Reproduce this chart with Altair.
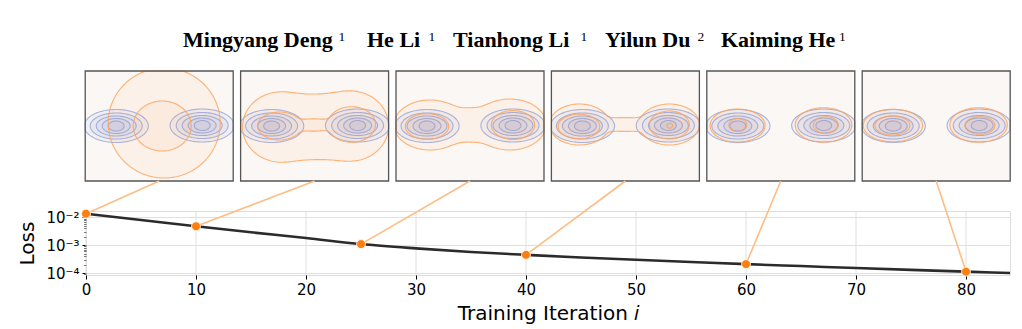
import numpy as np
import pandas as pd
import altair as alt
from collections import defaultdict

alt.data_transformers.disable_max_rows()

# ---------------- data ----------------
ITERATIONS = [0, 5, 10, 15, 20, 25, 30, 35, 40, 45, 50, 55, 60, 65, 70, 75, 80, 84]
LOSS = [1.36e-2, 8.1e-3, 4.8e-3, 2.92e-3, 1.82e-3, 1.1e-3, 7.7e-4, 5.7e-4, 4.5e-4,
        3.63e-4, 3.0e-4, 2.5e-4, 2.09e-4, 1.78e-4, 1.51e-4, 1.3e-4, 1.12e-4, 1.0e-4]
SNAP_ITER = [0, 10, 25, 40, 60, 80]
SNAP_LOSS = [1.36e-2, 4.8e-3, 1.1e-3, 4.5e-4, 2.09e-4, 1.12e-4]

AUTHORS = ["Mingyang Deng", "He Li", "Tianhong Li", "Yilun Du", "Kaiming He"]
AFFILS = ["1", "1", "1", "2", "1"]

X_TICKS = [0, 10, 20, 30, 40, 50, 60, 70, 80]

# target distribution (blue): two blobs, nested contour half-axes (panel px)
BLUE_CENTRES = [(31, 55), (117, 54.5)]
BLUE_RADII = [(32, 16.5), (26, 13), (20, 10), (14, 7.5), (8, 5)]

# generated distribution (orange): per panel, per contour: blobs (cx, cy, rx, ry)
ORANGE = [
    [[(79, 52, 56, 55)],
     [(77, 55, 29, 25)]],
    [[(40, 56, 38, 35), (110, 55, 38, 35), (75, 56, 30, 29)],
     [(39, 55, 22, 14), (111, 53.5, 24, 17.8), (73, 54, 18, 6)]],
    [[(34, 54, 36, 25), (114, 53.5, 36, 25.5), (75, 54, 25, 15)],
     [(31, 55.5, 21.7, 12.8), (117, 54, 21.7, 14.5)]],
    [[(28, 53.5, 30, 20.5), (118, 53.5, 30, 20.5), (73, 53.5, 22, 6.7)],
     [(27.5, 55.5, 20.8, 12.3), (118, 54, 20, 14)],
     [(118.3, 54.7, 3, 2.5)]],
    [[(30.8, 54.5, 27.5, 16.5), (116.7, 54, 28.3, 17.3)],
     [(31, 54, 9, 6.5), (119, 54, 12.5, 8.3)]],
    [[(30.7, 54.5, 29.7, 16.2), (116.4, 54, 28.7, 17.3)],
     [(30.2, 54.5, 17.5, 9.5), (117.7, 54.5, 15, 8.8)]],
]

# ---------------- layout ----------------
PAD_L, PAD_T = 86, 211
W, H = 924, 64
PAD_R, PAD_B = 1022 - PAD_L - W, 329 - PAD_T - H
X_DOMAIN = [0, 84]
PX = W / (X_DOMAIN[1] - X_DOMAIN[0])
PANEL_W, PANEL_H = 148, 110
PANEL_LEFT = [85.2 + 155.4 * i - PAD_L for i in range(6)]   # relative to plot left
PANEL_TOP, PANEL_BOTTOM = 71 - PAD_T, 181 - PAD_T
Y_DOMAIN = [8.5e-5, 1.7e-2]

BLUE, BLUE_FILL = "#8198dc", "#6b7fc4"
ORANGE_C, ORANGE_FILL = "#ffa55a", "#ff9a40"
DOT = "#ff7f0e"
LINK = "#fdbd84"
GRID = "#e0e0e0"


# ---------------- contour geometry (marching squares) ----------------
def field(blobs, U, V, p=3.0):
    acc = np.zeros_like(U)
    for cx, cy, rx, ry in blobs:
        f = np.exp(-np.log(2) * (((U - cx) / rx) ** 2 + ((V - cy) / ry) ** 2))
        acc += f ** p
    return acc ** (1.0 / p)


def iso_polygons(F, xs, ys, level):
    F = F.copy()
    F[0, :] = 0; F[-1, :] = 0; F[:, 0] = 0; F[:, -1] = 0
    B = F > level
    case = (B[:-1, :-1] * 1 + B[:-1, 1:] * 2 + B[1:, 1:] * 4 + B[1:, :-1] * 8)
    adj = defaultdict(list)

    def link(a, b):
        adj[a].append(b)
        adj[b].append(a)

    for j, i in np.argwhere((case > 0) & (case < 15)):
        j = int(j); i = int(i)
        c = case[j, i]
        e0 = ('h', i, j); e1 = ('v', i + 1, j); e2 = ('h', i, j + 1); e3 = ('v', i, j)
        if c in (5, 10):
            centre = (F[j, i] + F[j, i + 1] + F[j + 1, i + 1] + F[j + 1, i]) / 4 > level
            if (c == 5) == centre:
                link(e0, e1); link(e2, e3)
            else:
                link(e3, e0); link(e1, e2)
        else:
            a, b, cc, d = B[j, i], B[j, i + 1], B[j + 1, i + 1], B[j + 1, i]
            crossed = []
            if a != b: crossed.append(e0)
            if b != cc: crossed.append(e1)
            if d != cc: crossed.append(e2)
            if a != d: crossed.append(e3)
            link(crossed[0], crossed[1])

    def pt(e):
        kind, i, j = e
        if kind == 'h':
            f1, f2 = F[j, i], F[j, i + 1]
            t = (level - f1) / (f2 - f1)
            return xs[i] + t * (xs[i + 1] - xs[i]), ys[j]
        f1, f2 = F[j, i], F[j + 1, i]
        t = (level - f1) / (f2 - f1)
        return xs[i], ys[j] + t * (ys[j + 1] - ys[j])

    visited, polys = set(), []
    for start in list(adj.keys()):
        if start in visited:
            continue
        visited.add(start)
        path, cur = [start], start
        while True:
            nxt = None
            for n in adj[cur]:
                if n not in visited:
                    nxt = n
                    break
            if nxt is None:
                break
            visited.add(nxt); path.append(nxt); cur = nxt
        pts = [pt(e) for e in path]
        pts.append(pts[0])
        polys.append(pts)
    return polys


xs = np.arange(-40, 190, 1.5)
ys = np.arange(-40, 152, 1.5)
U, V = np.meshgrid(xs, ys)
rows = []
pid = 0
for p in range(6):
    groups = {
        "target": [[(cx, cy, rx, ry) for (cx, cy) in BLUE_CENTRES] for (rx, ry) in BLUE_RADII],
        "model": ORANGE[p],
    }
    for dist, clist in groups.items():
        for blobs in clist:
            F = field(blobs, U, V)
            for poly in iso_polygons(F, xs, ys, 0.5):
                for k, (u, v) in enumerate(poly):
                    u = min(max(u, 0.0), PANEL_W)
                    v = min(max(v, 0.0), PANEL_H)
                    rows.append(dict(pid=pid, k=k, dist=dist,
                                     x=round((PANEL_LEFT[p] + u) / PX, 4), y=round(v, 2)))
                pid += 1
cdf = pd.DataFrame(rows)

panels = pd.DataFrame({
    "x0": [PANEL_LEFT[i] / PX for i in range(6)],
    "x1": [(PANEL_LEFT[i] + PANEL_W) / PX for i in range(6)],
    "y0": [0] * 6, "y1": [PANEL_H] * 6,
})
loss_df = pd.DataFrame({"it": ITERATIONS, "loss": LOSS})
snap_df = pd.DataFrame({"it": SNAP_ITER, "loss": SNAP_LOSS})
xtick_df = pd.DataFrame({"it": X_TICKS})

# ---------------- encodings ----------------
FONT = "DejaVu Sans"
x_scale = alt.Scale(domain=X_DOMAIN, nice=False, zero=False)
x_axis = alt.Axis(values=X_TICKS, title="Training Iteration 𝑖", format="d",
                  labelFont=FONT, labelFontSize=15, labelColor="black", labelFlush=False,
                  titleFont=FONT, titleFontSize=20, titleFontWeight="normal", titleColor="black",
                  tickColor="black", tickSize=4, domain=False, grid=False,
                  labelPadding=3, titlePadding=6)


def X(f):
    return alt.X(f"{f}:Q", scale=x_scale, axis=x_axis)


L10 = "log(datum.value)/LN10"
MAJ = f"abs({L10} - round({L10})) < 0.001"
y_ticks = sorted({round(m * 10.0 ** e, 12) for e in (-5, -4, -3, -2) for m in range(1, 10)
                  if Y_DOMAIN[0] <= m * 10.0 ** e <= Y_DOMAIN[1]})
y_axis = alt.Axis(values=y_ticks, title="Loss",
                  labelExpr=f"{MAJ} ? ('10' + (round({L10}) == -2 ? '⁻²' : round({L10}) == -3 ? '⁻³' : '⁻⁴')) : ''",
                  labelFont=FONT, labelFontSize=15, labelColor="black", labelFlush=False,
                  labelOverlap=False, labelPadding=3,
                  titleFont=FONT, titleFontSize=20, titleFontWeight="normal", titleColor="black",
                  titlePadding=8, tickColor="black",
                  tickSize={"condition": {"test": MAJ, "value": 4}, "value": 2},
                  domain=False, grid=True, gridColor=GRID, gridWidth=1,
                  gridOpacity={"condition": {"test": MAJ, "value": 1}, "value": 0})
y_scale = alt.Scale(type="log", domain=Y_DOMAIN, nice=False)


def YL(f):
    return alt.Y(f"{f}:Q", scale=y_scale, axis=y_axis)


yp_scale = alt.Scale(domain=[0, PANEL_H], range=[PANEL_TOP, PANEL_BOTTOM], nice=False, zero=False)


def YP(f):
    return alt.Y(f"{f}:Q", scale=yp_scale, axis=None)


# ---------------- panel group ----------------
bg = alt.Chart(panels).mark_rect(fill="#fbf7f4", strokeOpacity=0).encode(
    x=X("x0"), x2="x1", y=YP("y0"), y2="y1")
blue = alt.Chart(cdf[cdf.dist == "target"]).mark_line(
    stroke=BLUE, strokeWidth=1.1, strokeOpacity=0.7, fill=BLUE_FILL, fillOpacity=0.06
).encode(x=X("x"), y=YP("y"), detail="pid:N", order="k:Q")
orange = alt.Chart(cdf[cdf.dist == "model"]).mark_line(
    stroke=ORANGE_C, strokeWidth=1.1, strokeOpacity=0.85, fill=ORANGE_FILL, fillOpacity=0.06
).encode(x=X("x"), y=YP("y"), detail="pid:N", order="k:Q")
frame = alt.Chart(panels).mark_rect(fillOpacity=0, stroke="#555555", strokeWidth=1.3).encode(
    x=X("x0"), x2="x1", y=YP("y0"), y2="y1")

NAME_X = [183.0, 367.0, 453.0, 605.0, 721.0]
SUP_X = [338.5, 428.5, 580.5, 697.5, 839.0]
title_layers = []
for name, sup, nx, sx in zip(AUTHORS, AFFILS, NAME_X, SUP_X):
    title_layers.append(alt.Chart(pd.DataFrame({"t": [name]})).mark_text(
        font="Liberation Serif", fontWeight="bold", fontSize=22, align="left",
        baseline="alphabetic", color="black").encode(
        text="t:N", x=alt.value(nx - PAD_L), y=alt.value(47 - PAD_T)))
    title_layers.append(alt.Chart(pd.DataFrame({"t": [sup]})).mark_text(
        font="Liberation Serif", fontSize=13.5, align="left",
        baseline="alphabetic", color="black").encode(
        text="t:N", x=alt.value(sx - PAD_L), y=alt.value(40.5 - PAD_T)))

panel_group = alt.layer(bg, blue, orange, frame, *title_layers)

# ---------------- loss group ----------------
vgrid = alt.Chart(xtick_df).mark_rule(color=GRID, strokeWidth=1).encode(
    x=X("it"), y=alt.value(0), y2=alt.value(H))
links = []
for i in range(6):
    links.append(alt.Chart(snap_df.iloc[[i]]).mark_rule(color=LINK, strokeWidth=1.6).encode(
        x=X("it"), y=YL("loss"),
        x2=alt.value(PANEL_LEFT[i] + PANEL_W / 2), y2=alt.value(PANEL_BOTTOM)))
line = alt.Chart(loss_df).mark_line(color="#2b2b2b", strokeWidth=2.6, interpolate="monotone").encode(
    x=X("it"), y=YL("loss"))
dots = alt.Chart(snap_df).mark_circle(size=80, color=DOT, opacity=1, stroke="white", strokeWidth=0.8).encode(
    x=X("it"), y=YL("loss"))
loss_group = alt.layer(vgrid, *links, line, dots)

chart = alt.layer(panel_group, loss_group).resolve_scale(y="independent").properties(
    width=W, height=H,
    padding={"left": PAD_L, "top": PAD_T, "right": PAD_R, "bottom": PAD_B},
    autosize=alt.AutoSizeParams(type="none"),
).configure_view(stroke="#8a8a8a", strokeWidth=1.6).configure(background="white")

chart.save("out.html", embed_options={"renderer": "svg", "actions": False})
